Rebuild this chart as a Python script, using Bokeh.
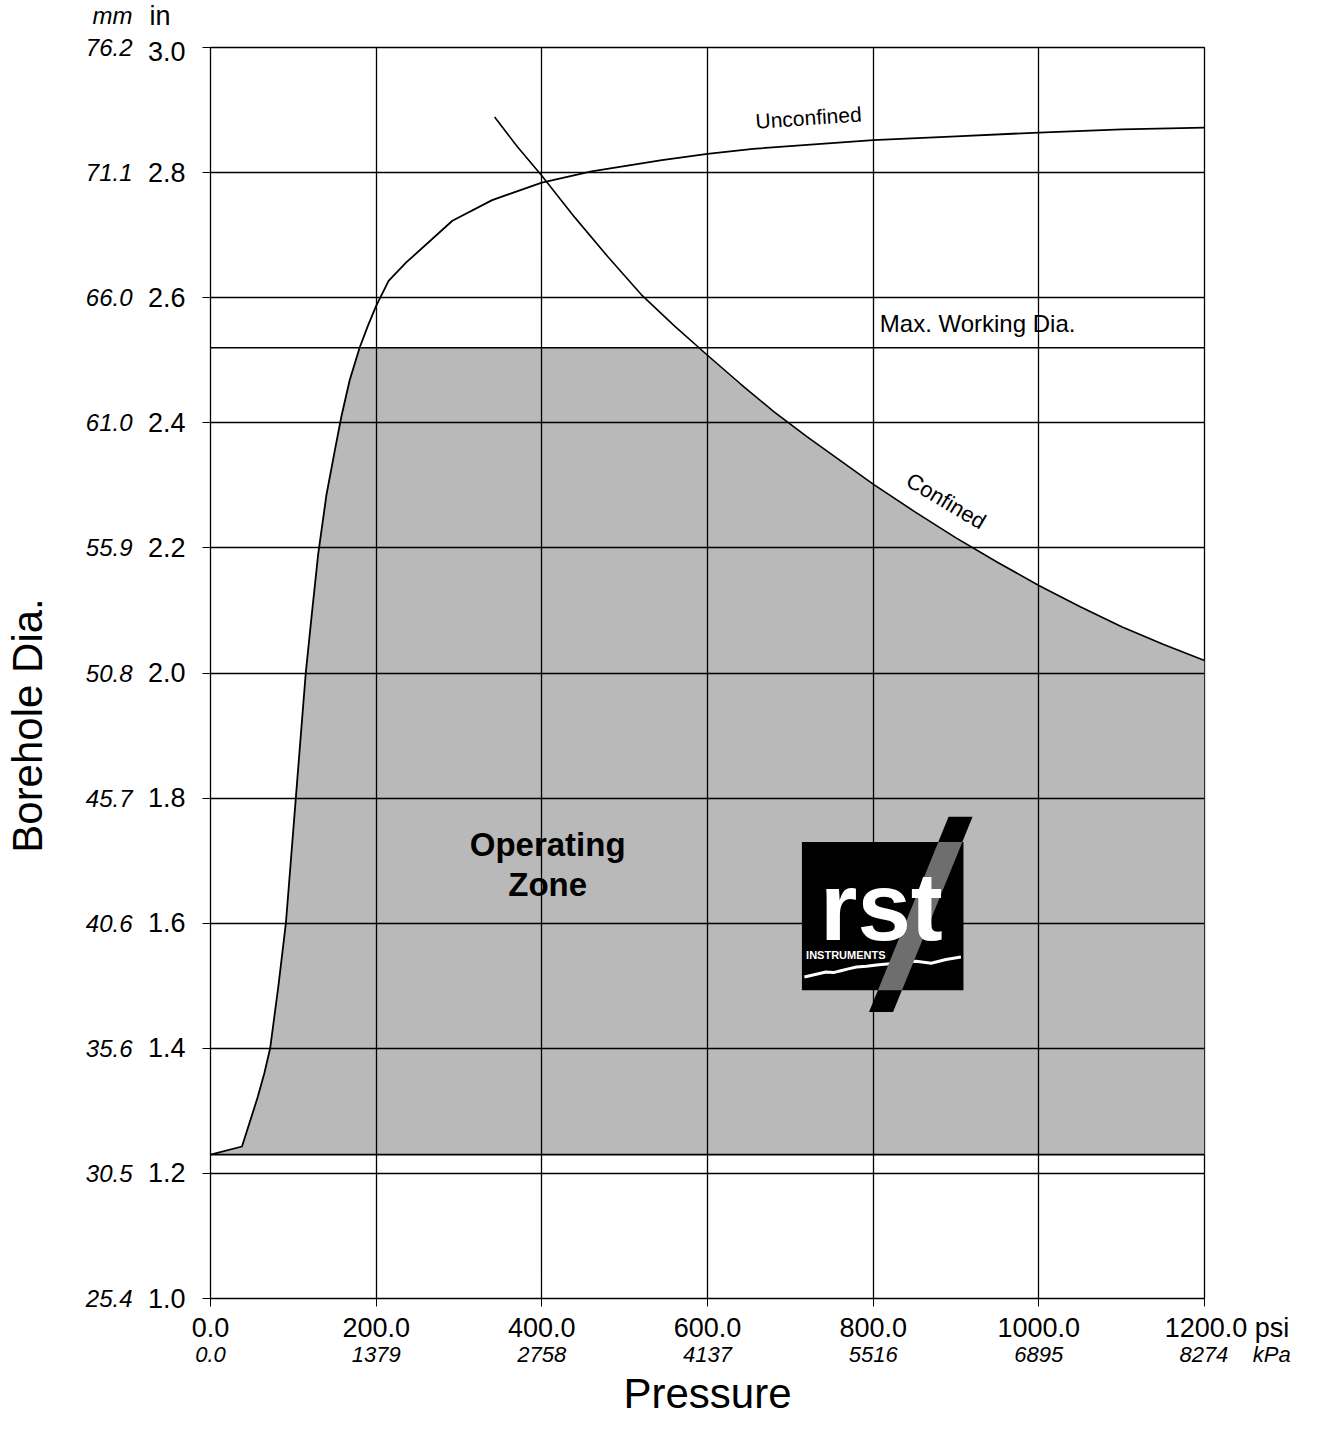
from bokeh.plotting import figure
from bokeh.models import LinearAxis, FixedTicker, Range1d
from bokeh.embed import file_html
from bokeh.resources import INLINE
from bokeh.core.properties import value
import numpy as np

# ---------------- data ----------------
x_ticks = [0, 200, 400, 600, 800, 1000, 1200]
psi_labels = ["0.0", "200.0", "400.0", "600.0", "800.0", "1000.0", "1200.0"]
kpa_labels = ["0.0", "1379", "2758", "4137", "5516", "6895", "8274"]
psi_unit, kpa_unit = "psi", "kPa"

y_ticks = [1.0, 1.2, 1.4, 1.6, 1.8, 2.0, 2.2, 2.4, 2.6, 2.8, 3.0]
in_labels = ["1.0", "1.2", "1.4", "1.6", "1.8", "2.0", "2.2", "2.4", "2.6", "2.8", "3.0"]
mm_labels = ["25.4", "30.5", "35.6", "40.6", "45.7", "50.8", "55.9", "61.0", "66.0", "71.1", "76.2"]
in_unit, mm_unit = "in", "mm"

unconf_psi = [0, 38, 57, 65, 72, 82, 91, 103, 115, 122, 130, 140, 150, 158, 168, 180, 190, 200,
              215, 236, 292, 340, 400, 460, 545, 600, 655, 800, 900, 1000, 1100, 1200]
unconf_in = [1.23, 1.243, 1.322, 1.36, 1.40, 1.50, 1.60, 1.80, 2.00, 2.09, 2.19, 2.285, 2.355, 2.41,
             2.468, 2.52, 2.555, 2.587, 2.627, 2.656, 2.723, 2.756, 2.784, 2.802, 2.82, 2.83, 2.838,
             2.852, 2.858, 2.864, 2.869, 2.872]

conf_psi = [343, 370, 400, 440, 480, 520, 560, 600, 640, 680, 720, 760, 800, 850, 900, 950,
            1000, 1050, 1100, 1150, 1200]
conf_in = [2.889, 2.842, 2.795, 2.728, 2.665, 2.605, 2.555, 2.508, 2.462, 2.418, 2.378, 2.340,
           2.302, 2.258, 2.216, 2.177, 2.140, 2.106, 2.074, 2.046, 2.020]

max_working_dia = 2.52
min_dia = 1.23

# logo decoration (data coordinates)
logo_box_x = [714, 909]
logo_box_y = [1.493, 1.730]
logo_bar_x = [891, 920, 824, 795]
logo_bar_y = [1.770, 1.770, 1.458, 1.458]
logo_wave_x = [717, 730, 743, 752, 761, 770, 780, 792, 804, 852, 870, 888, 906]
logo_wave_y = [1.514, 1.518, 1.522, 1.521, 1.524, 1.527, 1.530, 1.531, 1.533, 1.539, 1.536, 1.542, 1.546]

FONT = "Liberation Sans"
NB = "\u00a0"

# ---------------- figure ----------------
p = figure(width=1310, height=1428, output_backend="svg", toolbar_location=None,
           x_range=Range1d(x_ticks[0], x_ticks[-1]), y_range=Range1d(y_ticks[0], y_ticks[-1]),
           min_border_left=210, min_border_right=106, min_border_top=47, min_border_bottom=130)
p.background_fill_color = "white"
p.border_fill_color = "white"
p.outline_line_color = "black"
p.outline_line_width = 1.3

# grids
p.xgrid.ticker = FixedTicker(ticks=x_ticks)
p.ygrid.ticker = FixedTicker(ticks=y_ticks)
for g in (p.xgrid, p.ygrid):
    g.grid_line_color = "black"
    g.grid_line_width = 1.3
    g.minor_grid_line_color = None

# operating zone polygon
ux = np.array(unconf_psi, dtype=float); uy = np.array(unconf_in)
cx = np.array(conf_psi, dtype=float); cy = np.array(conf_in)
x_u = np.interp(max_working_dia, uy, ux)
x_c = np.interp(max_working_dia, cy[::-1], cx[::-1])
mu = uy < max_working_dia
mc = cy < max_working_dia
zx = list(ux[mu]) + [x_u, x_c] + list(cx[mc]) + [cx[-1], cx[-1]]
zy = list(uy[mu]) + [max_working_dia, max_working_dia] + list(cy[mc]) + [cy[-1], min_dia]
p.patch(zx, zy, fill_color="#b9b9b9", line_color=None, level="image")

# reference lines
p.line([x_ticks[0], x_ticks[-1]], [max_working_dia, max_working_dia], line_color="black", line_width=1.4)
p.line([x_ticks[0], x_ticks[-1]], [min_dia, min_dia], line_color="black", line_width=1.6)

# curves
p.line(unconf_psi, unconf_in, line_color="black", line_width=1.8)
p.line(conf_psi, conf_in, line_color="black", line_width=1.6)

# ---------------- logo ----------------
p.patch(logo_bar_x, logo_bar_y, fill_color="black", line_color=None)
p.quad(left=logo_box_x[0], right=logo_box_x[1], bottom=logo_box_y[0], top=logo_box_y[1],
       fill_color="black", line_color=None)
p.line(logo_wave_x, logo_wave_y, line_color="white", line_width=3)
bx = np.array(logo_bar_x, dtype=float); by = np.array(logo_bar_y)
def edge(x_top, x_bot, y):
    return x_bot + (y - by[2]) / (by[0] - by[2]) * (x_top - x_bot)
ib_x = [edge(bx[0], bx[3], logo_box_y[1]), edge(bx[1], bx[2], logo_box_y[1]),
        edge(bx[1], bx[2], logo_box_y[0]), edge(bx[0], bx[3], logo_box_y[0])]
ib_y = [logo_box_y[1], logo_box_y[1], logo_box_y[0], logo_box_y[0]]
p.patch(ib_x, ib_y, fill_color="#6e6e6e", line_color=None)

# ---------------- in-plot texts (glyphs) ----------------
def txt(x, y, s, size, style="normal", color="black", align="center", baseline="middle", angle=0.0):
    p.text(x=[x], y=[y], text=[s], text_font=value(FONT), text_font_size=value(size),
           text_font_style=value(style), text_color=color, text_align=value(align),
           text_baseline=value(baseline), angle=angle)

txt(407, 1.726, "Operating", "33px", "bold")
txt(407, 1.662, "Zone", "33px", "bold")
txt(722, 2.888, "Unconfined", "21px", angle=0.07)
txt(808, 2.558, "Max. Working Dia.", "24px", align="left")
txt(888, 2.275, "Confined", "22px", angle=-0.54)
txt(810, 1.626, "rst", "96px", "bold", color="white")
txt(719, 1.549, "INSTRUMENTS", "11px", "bold", color="white", align="left")

# ---------------- axes ----------------
in_over = {t: l for t, l in zip(y_ticks, in_labels)}
in_over[y_ticks[-1]] = in_unit + NB * 2 + "\n" + in_labels[-1] + "\n" + NB
mm_over = {t: l for t, l in zip(y_ticks, mm_labels)}
mm_over[y_ticks[-1]] = mm_unit + "\n" + mm_labels[-1] + "\n" + NB

ax_in = p.yaxis[0]
ax_in.ticker = FixedTicker(ticks=y_ticks)
ax_in.major_label_overrides = in_over
ax_in.major_label_text_font = FONT
ax_in.major_label_text_font_size = "27px"
ax_in.major_label_text_color = "black"
ax_in.major_tick_out = 8
ax_in.major_tick_in = 0
ax_in.minor_tick_line_color = None
ax_in.major_label_standoff = 17
ax_in.axis_line_color = "black"
ax_in.major_tick_line_color = "black"

ax_mm = LinearAxis(ticker=FixedTicker(ticks=y_ticks))
ax_mm.major_label_overrides = mm_over
ax_mm.major_label_text_font = FONT
ax_mm.major_label_text_font_size = "24px"
ax_mm.major_label_text_font_style = "italic"
ax_mm.major_label_text_color = "black"
ax_mm.axis_line_color = None
ax_mm.major_tick_line_color = None
ax_mm.minor_tick_line_color = None
ax_mm.major_label_standoff = 6
ax_mm.axis_label = "Borehole Dia." + NB * 9
ax_mm.axis_label_text_font = FONT
ax_mm.axis_label_text_font_size = "42px"
ax_mm.axis_label_text_font_style = "normal"
ax_mm.axis_label_text_color = "black"
ax_mm.axis_label_standoff = 32
p.add_layout(ax_mm, "left")

psi_over = {t: l for t, l in zip(x_ticks, psi_labels)}
psi_over[x_ticks[-1]] = NB * 6 + psi_labels[-1] + " " + psi_unit
kpa_over = {t: l for t, l in zip(x_ticks, kpa_labels)}
kpa_over[x_ticks[-1]] = NB * 10 + kpa_labels[-1] + NB * 4 + kpa_unit

ax_psi = p.xaxis[0]
ax_psi.ticker = FixedTicker(ticks=x_ticks)
ax_psi.major_label_overrides = psi_over
ax_psi.major_label_text_font = FONT
ax_psi.major_label_text_font_size = "27px"
ax_psi.major_label_text_color = "black"
ax_psi.major_tick_out = 8
ax_psi.major_tick_in = 0
ax_psi.minor_tick_line_color = None
ax_psi.major_label_standoff = 6
ax_psi.axis_line_color = "black"
ax_psi.major_tick_line_color = "black"

ax_kpa = LinearAxis(ticker=FixedTicker(ticks=x_ticks))
ax_kpa.major_label_overrides = kpa_over
ax_kpa.major_label_text_font = FONT
ax_kpa.major_label_text_font_size = "22px"
ax_kpa.major_label_text_font_style = "italic"
ax_kpa.major_label_text_color = "black"
ax_kpa.axis_line_color = None
ax_kpa.major_tick_line_color = None
ax_kpa.minor_tick_line_color = None
ax_kpa.major_tick_out = 0
ax_kpa.major_tick_in = 0
ax_kpa.major_label_standoff = -4
ax_kpa.axis_label = "Pressure"
ax_kpa.axis_label_text_font = FONT
ax_kpa.axis_label_text_font_size = "42px"
ax_kpa.axis_label_text_font_style = "normal"
ax_kpa.axis_label_text_color = "black"
ax_kpa.axis_label_standoff = 0
p.add_layout(ax_kpa, "below")

open("out.html", "w").write(file_html(p, INLINE))
